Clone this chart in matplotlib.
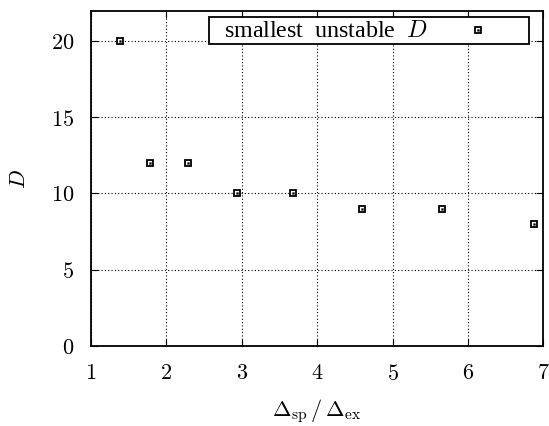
import matplotlib
matplotlib.use("Agg")
import matplotlib.pyplot as plt
from matplotlib.ticker import FuncFormatter

# ratio Delta_sp / Delta_ex  and  smallest unstable D
ratio = [1.38, 1.78, 2.29, 2.93, 3.68, 4.59, 5.66, 6.87]
d_min = [20, 12, 12, 10, 10, 9, 9, 8]

x_ticks = [1, 2, 3, 4, 5, 6, 7]
y_ticks = [0, 5, 10, 15, 20]

plt.rcParams['font.family'] = ['Liberation Serif', 'DejaVu Serif']
plt.rcParams['mathtext.fontset'] = 'cm'

fig = plt.figure(figsize=(5.49, 4.27), dpi=100)
ax = fig.add_axes([0.1658, 0.188, 0.8240, 0.7846])

# gnuplot style "boxes with dot" markers
sq, = ax.plot(ratio, d_min, ls='none', marker='s', ms=4.6, mfc='white',
              mec='black', mew=1.3)
dot, = ax.plot(ratio, d_min, ls='none', marker='s', ms=1.3, mfc='black',
               mec='black', mew=0.3)

ax.set_xlim(1, 7)
ax.set_ylim(0, 22)
ax.set_xticks(x_ticks)
ax.set_yticks(y_ticks)
fmt = FuncFormatter(lambda v, p: r'$%d$' % v)
ax.xaxis.set_major_formatter(fmt)
ax.yaxis.set_major_formatter(fmt)
ax.tick_params(direction='in', length=5, width=0.8, labelsize=16,
               top=True, right=True, pad=12)
ax.tick_params(axis='x', pad=13)

ax.grid(True, ls=(0, (1, 2)), lw=0.8, color='black')
for s in ax.spines.values():
    s.set_linewidth(1.3)

ax.set_xlabel(r'$\Delta_{\rm sp}\,/\,\Delta_{\rm ex}$', fontsize=16, labelpad=9)
ax.set_ylabel(r'$D$', fontsize=16, labelpad=15)

leg = ax.legend([(sq, dot)], [r'  smallest  unstable  $D$'], loc='upper right',
                bbox_to_anchor=(0.9686, 0.980), markerfirst=False,
                fontsize=17.3, handlelength=4.0, handleheight=0.1,
                handletextpad=0.1, borderpad=0.12, borderaxespad=0,
                fancybox=False, framealpha=1, edgecolor='black')
leg.get_frame().set_linewidth(1.3)

fig.savefig('out.png', dpi=100)
